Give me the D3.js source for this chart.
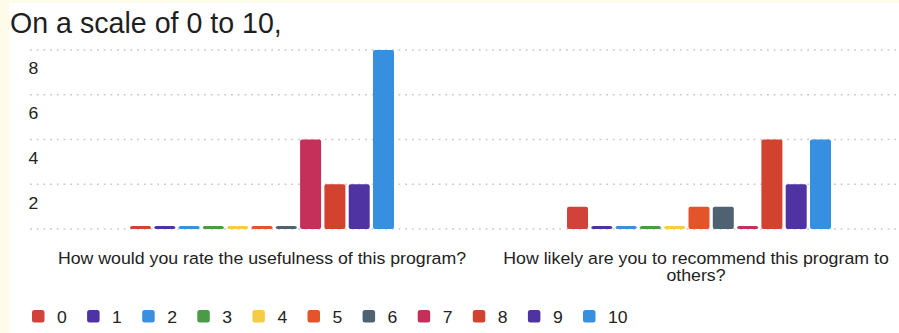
<!DOCTYPE html>
<html>
<head>
<meta charset="utf-8">
<script src="https://cdn.jsdelivr.net/npm/d3@7"></script>
<style>
  html, body { margin: 0; padding: 0; background: #fefbea; }
  svg { display: block; }
  text { font-family: "Liberation Sans", Arial, Helvetica, sans-serif; fill: #222; }
</style>
</head>
<body>
<svg id="chart" width="899" height="333"></svg>
<script>
// Survey questions (x categories)
const questions = [
  "How would you rate the usefulness of this program?",
  "How likely are you to recommend this program to others?"
];
// Rating options 0..10 (series)
const ratings = ["0", "1", "2", "3", "4", "5", "6", "7", "8", "9", "10"];
// Response counts per rating, one array per question
const usefulnessCounts = [0, 0, 0, 0, 0, 0, 0, 4, 2, 2, 8];
const recommendCounts  = [1, 0, 0, 0, 0, 1, 1, 0, 4, 2, 4];
// Y-axis tick labels
const yTicks = [2, 4, 6, 8];
// Series colours
const ratingColors = ["#d1423a", "#4f33a6", "#3a8fde", "#4b9a48", "#f5cd45", "#e3542a",
                      "#4e6272", "#c4305a", "#d2432f", "#5033a2", "#3690df"];

const title = "On a scale of 0 to 10,";
const counts = [usefulnessCounts, recommendCounts];

const svg = d3.select("#chart");
const W = 899, H = 333;
const stretch = 1.1; // horizontal glyph stretch of chart labels

// white card
svg.append("rect").attr("x", 9).attr("y", 3).attr("width", W - 9).attr("height", H - 3).attr("fill", "#ffffff");

svg.append("text").attr("x", 10).attr("y", 33)
  .style("font-size", "28.6px").style("fill", "#1f1f1f").text(title);

const y = d3.scaleLinear().domain([0, 8]).range([229, 50]);
const x0 = d3.scaleBand().domain(questions).range([43.5, 917.5]).padding(0);
const groupWidth = 267.3;
const x1 = d3.scaleBand().domain(ratings).range([0, groupWidth]).paddingInner(0.136).paddingOuter(0.068);
const color = d3.scaleOrdinal().domain(ratings).range(ratingColors);

// dotted gridlines
const grid = svg.append("g");
grid.selectAll("line").data([0].concat(yTicks)).join("line")
  .attr("x1", 30).attr("x2", W)
  .attr("y1", d => y(d)).attr("y2", d => y(d))
  .attr("stroke", "#c9c9c9").attr("stroke-width", 1.6)
  .attr("stroke-dasharray", "1.8 4.9");

// y tick labels sit just under their gridline
const yAxis = d3.axisLeft(y).tickValues(yTicks).tickSize(0).tickFormat(d3.format("d"));
const ya = svg.append("g").call(yAxis).attr("font-size", null).attr("font-family", null);
ya.select(".domain").remove();
ya.selectAll(".tick text")
  .attr("x", 0).attr("dy", 0)
  .attr("text-anchor", "start")
  .style("font-size", "16px")
  .attr("fill", "#222")
  .attr("transform", `translate(28.5,23.8) scale(${stretch},1)`);

// bars
const groups = svg.append("g").selectAll("g").data(questions).join("g")
  .attr("transform", q => `translate(${x0(q) + x0.bandwidth() / 2 - groupWidth / 2},0)`);

groups.selectAll("rect")
  .data((q, i) => ratings.map((r, j) => ({ r, v: counts[i][j] })))
  .join("rect")
  .attr("x", d => x1(d.r))
  .attr("width", x1.bandwidth())
  .attr("y", d => d.v > 0 ? y(d.v) : y(0) - 3)
  .attr("height", d => d.v > 0 ? y(0) - y(d.v) : 3)
  .attr("rx", 2).attr("ry", 2)
  .attr("fill", d => color(d.r));

// category labels (wrapped)
const catLines = [
  ["How would you rate the usefulness of this program?"],
  ["How likely are you to recommend this program to", "others?"]
];
questions.forEach((q, i) => {
  const cx = x0(q) + x0.bandwidth() / 2;
  catLines[i].forEach((line, k) => {
    svg.append("text")
      .attr("transform", `translate(${cx - (i === 1 ? 3 : 0)},${264 + k * 17}) scale(1.13,1)`)
      .attr("text-anchor", "middle")
      .style("font-size", "15.7px")
      .text(line);
  });
});

// legend
const legend = svg.append("g").selectAll("g").data(ratings).join("g")
  .attr("transform", (d, i) => `translate(${32 + i * 55.1},310)`);
legend.append("rect").attr("width", 12.5).attr("height", 12.5).attr("rx", 2.5)
  .attr("fill", d => color(d));
legend.append("text")
  .attr("transform", `translate(25,13.3) scale(${stretch},1)`)
  .style("font-size", "16px")
  .text(d => d);
</script>
</body>
</html>
